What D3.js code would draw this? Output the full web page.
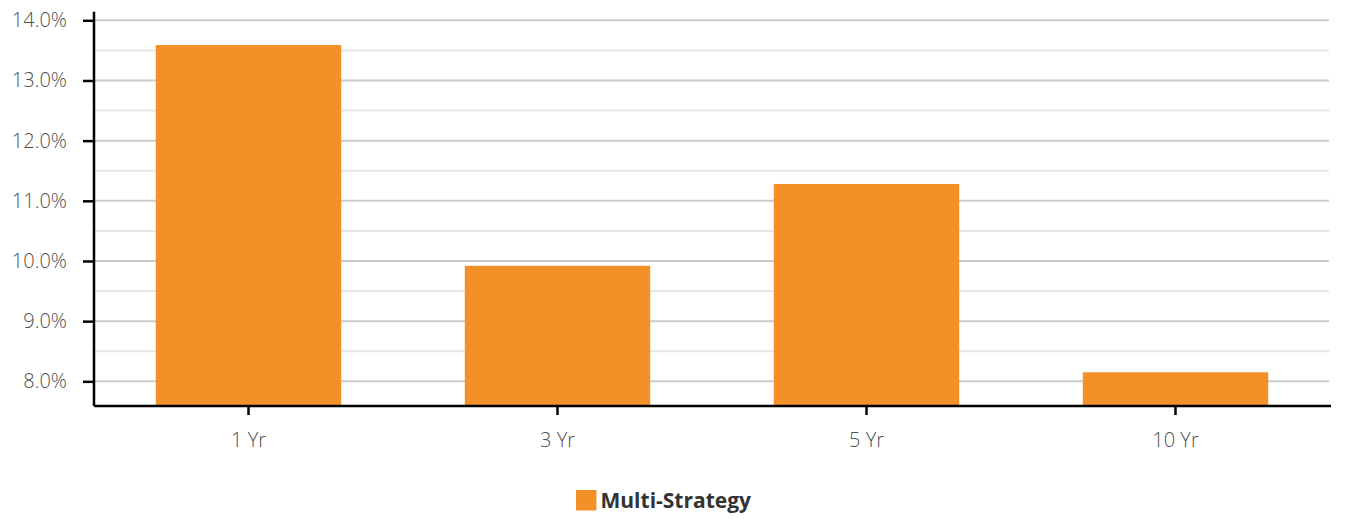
<!DOCTYPE html>
<html>
<head>
<meta charset="utf-8">
<script src="https://cdn.jsdelivr.net/npm/d3@7"></script>
<style>
  html, body { margin: 0; padding: 0; background: #fff; }
  svg { display: block; }
</style>
</head>
<body>
<svg id="chart" width="1346" height="519"></svg>
<script>
const categories = ["1 Yr", "3 Yr", "5 Yr", "10 Yr"];
const values = [13.59, 9.92, 11.28, 8.15];
const seriesName = "Multi-Strategy";
const yTicks = [8, 9, 10, 11, 12, 13, 14];
const yMinorTicks = [8.5, 9.5, 10.5, 11.5, 12.5, 13.5];

(function () {
const svg = d3.select("#chart");
const mLeft = 94, mRight = 1330, mTop = 11.7, mBottom = 406;
const font = "'Open Sans', sans-serif";
const barColor = "#F39128";

const x = d3.scaleBand().domain(categories).range([mLeft, mRight]).paddingInner(0.4).paddingOuter(0.2);
const y = d3.scaleLinear().domain([7.59, 14.143]).range([mBottom, mTop]);

// grid
svg.append("g").selectAll("line").data(yMinorTicks).join("line")
  .attr("x1", mLeft).attr("x2", mRight - 1)
  .attr("y1", d => y(d)).attr("y2", d => y(d))
  .attr("stroke", "#e6e6e6").attr("stroke-width", 2);
svg.append("g").selectAll("line").data(yTicks).join("line")
  .attr("x1", mLeft).attr("x2", mRight - 1)
  .attr("y1", d => y(d)).attr("y2", d => y(d))
  .attr("stroke", "#cbcbcb").attr("stroke-width", 2);

// bars
svg.append("g").selectAll("rect").data(values).join("rect")
  .attr("x", (d, i) => x(categories[i]))
  .attr("width", x.bandwidth())
  .attr("y", d => y(d))
  .attr("height", d => mBottom - y(d))
  .attr("fill", barColor);

// y axis
const yAxis = svg.append("g").attr("transform", `translate(${mLeft},0)`)
  .call(d3.axisLeft(y).tickValues(yTicks).tickSize(11).tickPadding(16)
    .tickFormat(d => d.toFixed(1) + "%"));
yAxis.select(".domain").attr("stroke", "#000").attr("stroke-width", 2.5)
  .attr("d", `M0,${mTop}V${mBottom}`);
yAxis.selectAll(".tick line").attr("stroke", "#000").attr("stroke-width", 2.5);
yAxis.selectAll(".tick text").attr("font-family", font).attr("font-size", 20)
  .attr("fill", "#505050").attr("font-weight", 300);

// x axis
const xAxis = svg.append("g").attr("transform", `translate(0,${mBottom})`)
  .call(d3.axisBottom(x).tickSize(9).tickPadding(18).tickSizeOuter(0));
xAxis.select(".domain").attr("stroke", "#000").attr("stroke-width", 2.5)
  .attr("d", `M${mLeft},0H${mRight + 1}`);
xAxis.selectAll(".tick line").attr("stroke", "#000").attr("stroke-width", 2.5);
xAxis.selectAll(".tick text").attr("font-family", font).attr("font-size", 20)
  .attr("fill", "#505050").attr("font-weight", 300);

// legend
const lg = svg.append("g").attr("transform", "translate(576,490)");
lg.append("rect").attr("width", 20.5).attr("height", 20.5).attr("fill", barColor);
lg.append("text").attr("x", 24.5).attr("y", 17.5).text(seriesName)
  .attr("font-family", font).attr("font-size", 21).attr("font-weight", 700)
  .attr("fill", "#333");
})();
</script>
</body>
</html>
